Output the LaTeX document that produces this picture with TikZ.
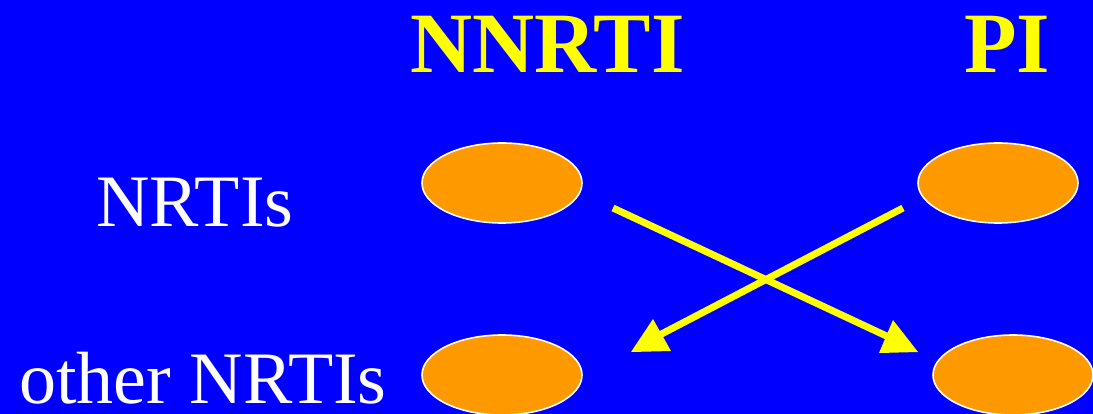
\documentclass[tikz,border=0pt]{standalone}
\usepackage{fontspec}
\setmainfont{Liberation Serif}
\usetikzlibrary{shapes.geometric}
\definecolor{bgblue}{RGB}{0,0,255}
\definecolor{orng}{RGB}{255,153,0}
\definecolor{ylw}{RGB}{255,255,0}
\begin{document}
\begin{tikzpicture}[x=1pt,y=-1pt,
  pill/.style={draw=white,line width=1.6pt,fill=orng,ellipse,minimum width=160pt,minimum height=80pt,inner sep=0pt},
  title/.style={text=ylw,font=\fontsize{86}{90}\selectfont\bfseries,anchor=base,inner sep=0pt},
  lbl/.style={text=white,font=\fontsize{74}{80}\selectfont,anchor=base,inner sep=0pt},
  conn/.style={draw=ylw,line width=7pt},
  head/.style={fill=ylw}]
\fill[bgblue] (0,0) rectangle (1093,414);
\useasboundingbox (0,0) rectangle (1093,414);
\node[title] (nnrti) at (547.5,73) {NNRTI};
\node[title] (pi) at (1007,73) {PI};
\node[lbl] (nrtis) at (195,227) {NRTIs};
\node[lbl] (other) at (203,403) {other NRTIs};
\node[pill] (e1) at (502,183) {};
\node[pill] (e2) at (998,183) {};
\node[pill] (e3) at (502,375) {};
\node[pill] (e4) at (1013,375) {};
\coordinate (a1s) at (613,208);
\coordinate (a1e) at (895,340);
\coordinate (a2s) at (903,208);
\coordinate (a2e) at (650,340);
\draw[conn] (a1s) -- (a1e);
\draw[conn] (a2s) -- (a2e);
\fill[head] (893,320) -- (879,353) -- (918,352) -- cycle;
\fill[head] (653,319) -- (631,352) -- (671,351) -- cycle;
\end{tikzpicture}
\end{document}
